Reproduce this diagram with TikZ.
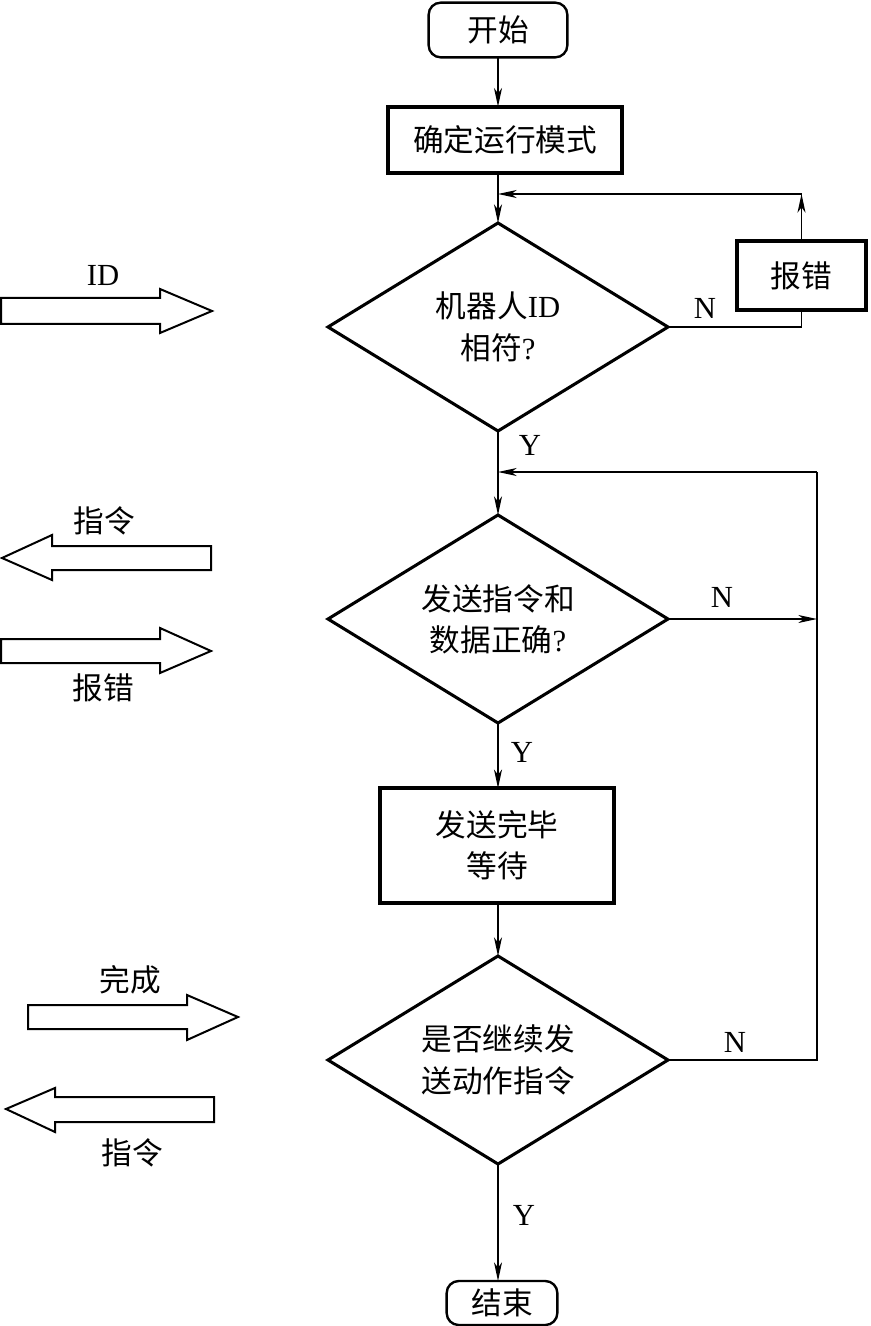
\documentclass[tikz,border=0pt]{standalone}
\usepackage{fontspec}
\setmainfont{Liberation Serif}
\newfontfamily\cjk{Noto Sans CJK SC}
\usetikzlibrary{shapes.geometric,arrows.meta}
\begin{document}
\begin{tikzpicture}[x=0.75pt,y=-0.75pt,
  every node/.style={font=\fontsize{23}{31}\selectfont},
  term/.style={draw, rounded corners=9pt, line width=1.8pt, inner sep=0pt, outer sep=0pt, align=center},
  procbox/.style={draw, line width=2.8pt, inner sep=0pt, outer sep=0pt, align=center},
  decision/.style={draw, diamond, shape aspect=1.63, line width=2.3pt, inner sep=0pt, outer sep=0pt, align=center,
                   minimum width=255pt, minimum height=156pt},
  conn/.style={line width=1pt, -{Stealth[length=14pt,width=6pt,inset=4pt]}},
  plainline/.style={line width=1pt},
  blockarrow/.style={draw, line width=1.5pt, line join=miter},
  lbl/.style={inner sep=0pt}]
\useasboundingbox (0,0) rectangle (870,1326);

% main nodes
\node[term, minimum width=104pt, minimum height=41pt] (start) at (498,30) {\cjk 开始};
\node[procbox, minimum width=175.5pt, minimum height=50pt] (mode) at (505,140) {\cjk 确定运行模式};
\node[decision] (d1) at (498,327) {{\cjk 机器人}ID\\{\cjk 相符}?};
\node[procbox, minimum width=97pt, minimum height=52pt] (err) at (801.5,275.5) {\cjk 报错};
\node[decision] (d2) at (498,619) {{\cjk 发送指令和}\\{\cjk 数据正确}?};
\node[procbox, minimum width=175pt, minimum height=86pt] (wait) at (497,845.5) {{\cjk 发送完毕}\\{\cjk 等待}};
\node[decision] (d3) at (498,1060) {{\cjk 是否继续发}\\{\cjk 送动作指令}};
\node[term, minimum width=83pt, minimum height=33pt] (end) at (502,1303) {\cjk 结束};

% helper coordinates
\coordinate (j1) at (498,194);
\coordinate (c1) at (801.5,194);
\coordinate (j2) at (498,472);
\coordinate (c2) at (817,472);

% connectors
\draw[conn] (start.south) -- (start.south |- mode.north);
\draw[conn] (start.south |- mode.south) -- (d1.north);
\draw[plainline] (d1.east) -| (err.south);
\draw[conn] (err.north) -- (c1);
\draw[conn] (c1) -- (j1);
\draw[conn] (d1.south) -- (d2.north);
\draw[conn] (d2.east) -- (d2.east -| c2);
\draw[plainline] (d3.east) -| (c2);
\draw[conn] (c2) -- (j2);
\draw[conn] (d2.south) -- (d2.south |- wait.north);
\draw[conn] (d2.south |- wait.south) -- (d3.north);
\draw[conn] (d3.south) -- (d3.south |- end.north);

% connector labels
\node[lbl] (n1) at (705,308) {N};
\node[lbl] (y1) at (530,445) {Y};
\node[lbl] (n2) at (722,597) {N};
\node[lbl] (y2) at (522,752) {Y};
\node[lbl] (n3) at (735,1042) {N};
\node[lbl] (y3) at (524,1215) {Y};

% block arrows
\draw[blockarrow] (1,298) -- (160,298) -- (160,289) -- (212,311) -- (160,333) -- (160,324) -- (1,324) -- cycle;
\node[lbl] (lid) at (103,275) {ID};
\draw[blockarrow] (211,546) -- (52,546) -- (52,535) -- (2,558) -- (52,580) -- (52,570) -- (211,570) -- cycle;
\node[lbl] (lcmd1) at (104,521) {\cjk 指令};
\draw[blockarrow] (1,639) -- (160,639) -- (160,628) -- (211,651) -- (160,673) -- (160,663) -- (1,663) -- cycle;
\node[lbl] (lerr) at (103,688) {\cjk 报错};
\draw[blockarrow] (28,1005) -- (187,1005) -- (187,995) -- (238,1017) -- (187,1040) -- (187,1029) -- (28,1029) -- cycle;
\node[lbl] (ldone) at (130,980) {\cjk 完成};
\draw[blockarrow] (214,1097) -- (55,1097) -- (55,1088) -- (6,1109) -- (55,1132) -- (55,1122) -- (214,1122) -- cycle;
\node[lbl] (lcmd2) at (132,1153) {\cjk 指令};
\end{tikzpicture}
\end{document}
